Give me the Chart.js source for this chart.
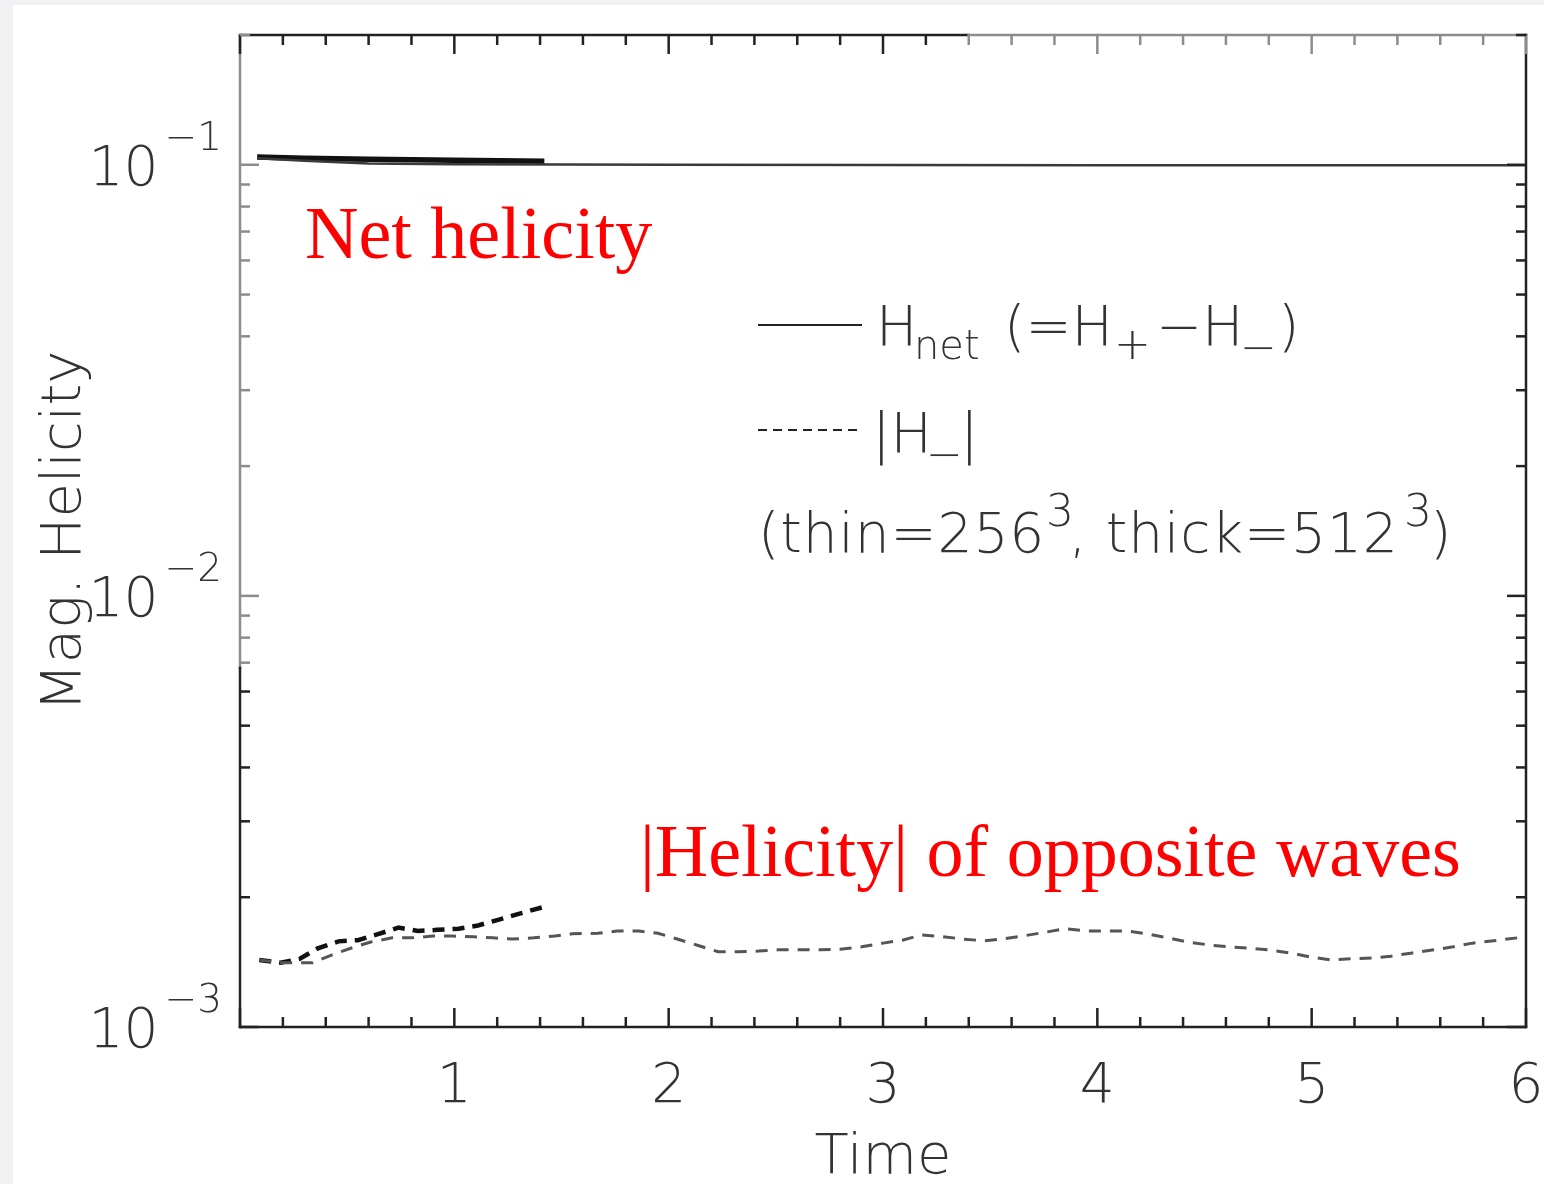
<!DOCTYPE html>
<html>
<head>
<meta charset="utf-8">
<script src="https://cdn.jsdelivr.net/npm/chart.js@4.4.1/dist/chart.umd.min.js"></script>
<style>
  html, body { margin: 0; padding: 0; background: #fff; }
  canvas { display: block; }
</style>
</head>
<body>
<canvas id="chart" width="1544" height="1184"></canvas>
<script>
// Net magnetic helicity, 256^3 (thin) and 512^3 (thick) runs
const tNet256 = [0.08, 0.3, 0.6, 1.0, 1.5, 2.0, 3.0, 4.0, 5.0, 6.0];
const hNet256 = [0.1035, 0.1022, 0.1007, 0.1003, 0.1001, 0.1000, 0.0999, 0.0998, 0.0998, 0.0997];
const tNet512 = [0.08, 0.3, 0.6, 1.0, 1.42];
const hNet512 = [0.1042, 0.1036, 0.1030, 0.1024, 0.1019];

// |H_-| of the oppositely polarised waves
const tMinus256 = [0.09, 0.19, 0.34, 0.43, 0.52, 0.61, 0.71, 0.80, 0.90, 0.99,
  1.09, 1.18, 1.27, 1.37, 1.47, 1.55, 1.67, 1.76, 1.86, 1.95,
  2.04, 2.13, 2.23, 2.32, 2.42, 2.51, 2.61, 2.71, 2.80, 2.90,
  3.00, 3.09, 3.18, 3.28, 3.37, 3.47, 3.56, 3.65, 3.76, 3.85,
  3.95, 4.05, 4.14, 4.23, 4.33, 4.42, 4.52, 4.61, 4.70, 4.80,
  4.90, 4.99, 5.09, 5.19, 5.28, 5.37, 5.47, 5.57, 5.66, 5.75,
  5.85, 5.96, 6.00];
const hMinus256 = [1.43e-3, 1.41e-3, 1.41e-3, 1.47e-3, 1.525e-3, 1.575e-3, 1.61e-3, 1.61e-3, 1.625e-3, 1.625e-3,
  1.62e-3, 1.61e-3, 1.60e-3, 1.61e-3, 1.625e-3, 1.645e-3, 1.65e-3, 1.67e-3, 1.67e-3, 1.65e-3,
  1.60e-3, 1.55e-3, 1.495e-3, 1.495e-3, 1.50e-3, 1.51e-3, 1.51e-3, 1.51e-3, 1.515e-3, 1.535e-3,
  1.565e-3, 1.59e-3, 1.635e-3, 1.62e-3, 1.60e-3, 1.585e-3, 1.60e-3, 1.625e-3, 1.66e-3, 1.69e-3,
  1.67e-3, 1.67e-3, 1.67e-3, 1.645e-3, 1.61e-3, 1.575e-3, 1.55e-3, 1.535e-3, 1.525e-3, 1.51e-3,
  1.485e-3, 1.455e-3, 1.43e-3, 1.44e-3, 1.445e-3, 1.46e-3, 1.485e-3, 1.51e-3, 1.535e-3, 1.565e-3,
  1.585e-3, 1.61e-3, 1.62e-3];
const tMinus512 = [0.09, 0.19, 0.28, 0.36, 0.46, 0.55, 0.64, 0.74, 0.83, 0.92, 1.02, 1.11, 1.20, 1.30, 1.42];
const hMinus512 = [1.43e-3, 1.41e-3, 1.44e-3, 1.52e-3, 1.58e-3, 1.59e-3, 1.64e-3, 1.70e-3, 1.67e-3, 1.68e-3,
  1.69e-3, 1.72e-3, 1.77e-3, 1.83e-3, 1.90e-3];

// Axis ranges and labels
const xMin = 0, xMax = 6;
const yMin = 1e-3, yMax = 0.2;
const yDecades = [-3, -2, -1];
const xTitle = 'Time';
const yTitle = 'Mag. Helicity';

const FONT = '"DejaVu Sans", sans-serif';
const INK = '#333';
const DARK = '#222';
const FADED = '#8c8c8c';

const pts = (xs, ys) => xs.map((v, i) => ({ x: v, y: ys[i] }));

function setFont(ctx, size) {
  ctx.font = `200 ${Math.round(size)}px ${FONT}`;
}

// Right-aligned run of text pieces, each with its own vertical shift, size factor and lead gap
function drawRich(ctx, xRight, y, parts, size) {
  const widths = parts.map(p => { setFont(ctx, size * (p.s || 1)); return ctx.measureText(p.t).width + (p.gap || 0); });
  let cx = xRight - widths.reduce((a, b) => a + b, 0);
  ctx.textAlign = 'left';
  ctx.textBaseline = 'alphabetic';
  parts.forEach((p, i) => {
    setFont(ctx, size * (p.s || 1));
    ctx.fillText(p.t, cx + (p.gap || 0), y + (p.dy || 0));
    cx += widths[i];
  });
}

// Text pieces placed at their own x positions on a common baseline
function drawPieces(ctx, y, parts, size) {
  ctx.textAlign = 'left';
  ctx.textBaseline = 'alphabetic';
  parts.forEach(p => {
    setFont(ctx, size * (p.s || 1));
    ctx.fillText(p.t, p.x, y + (p.dy || 0));
  });
}

function seg(ctx, x1, y1, x2, y2, color) {
  ctx.strokeStyle = color;
  ctx.beginPath(); ctx.moveTo(x1, y1); ctx.lineTo(x2, y2); ctx.stroke();
}

const framePlugin = {
  id: 'frame',
  beforeDraw(chart) {
    const { ctx, width, height } = chart;
    ctx.save();
    ctx.fillStyle = '#f1f1f3';
    ctx.fillRect(0, 0, width, height);
    ctx.fillStyle = '#ffffff';
    ctx.fillRect(13, 5, width - 13, height - 5);
    ctx.restore();
  },
  afterDraw(chart) {
    const { ctx, chartArea: { left, right, top, bottom }, scales: { x, y } } = chart;
    ctx.save();
    ctx.lineWidth = 2.5;
    ctx.lineCap = 'square';
    const topSplit = x.getPixelForValue(3.4);
    const leftSplit = 668;

    // box
    seg(ctx, left, top, topSplit, top, DARK);
    seg(ctx, topSplit, top, right, top, FADED);
    seg(ctx, right, top, right, bottom, DARK);
    seg(ctx, left, bottom, right, bottom, DARK);
    seg(ctx, left, top, left, leftSplit, FADED);
    seg(ctx, left, leftSplit, left, bottom, DARK);
    ctx.lineCap = 'butt';

    // inward ticks on all four sides
    for (let k = 0; k <= 30; k++) {
      const t = xMin + k * 0.2;
      const px = x.getPixelForValue(t);
      const len = k % 5 === 0 ? 19 : 10;
      seg(ctx, px, bottom, px, bottom - len, DARK);
      seg(ctx, px, top, px, top + len, px > topSplit ? FADED : DARK);
    }
    yDecades.forEach(d => {
      for (let m = 1; m <= 9; m++) {
        const v = m * Math.pow(10, d);
        if (v < yMin * 0.999 || v > yMax * 1.001) continue;
        const py = y.getPixelForValue(v);
        const len = m === 1 ? 19 : 10;
        seg(ctx, left, py, left + len, py, py < leftSplit ? FADED : DARK);
        seg(ctx, right, py, right - len, py, DARK);
      }
    });

    // decade labels 10^n
    ctx.fillStyle = INK;
    yDecades.forEach(d => {
      const py = y.getPixelForValue(Math.pow(10, d));
      drawRich(ctx, left - 18, py + 20, [
        { t: '10' },
        { t: '\u2212' + (-d), dy: -35, s: 0.7, gap: 6 }
      ], 55);
    });

    // key
    ctx.lineWidth = 2;
    seg(ctx, 758, 325, 862, 325, DARK);
    ctx.setLineDash([9, 6]);
    seg(ctx, 758, 430, 862, 430, DARK);
    ctx.setLineDash([]);
    ctx.fillStyle = INK;
    drawPieces(ctx, 345, [
      { t: 'H', x: 876 },
      { t: 'net', x: 914, dy: 14, s: 0.72 },
      { t: '(=H', x: 1004 },
      { t: '+', x: 1114, dy: 14, s: 0.8 },
      { t: '\u2212H', x: 1156 },
      { t: '\u2212', x: 1240, dy: 17, s: 0.8 },
      { t: ')', x: 1278 }
    ], 55);
    drawPieces(ctx, 452, [
      { t: '|H', x: 872 },
      { t: '\u2212', x: 926, dy: 17, s: 0.8 },
      { t: '|', x: 960 }
    ], 55);
    ctx.letterSpacing = '0.9px';
    drawPieces(ctx, 552, [
      { t: '(thin=256', x: 758 },
      { t: '3', x: 1046, dy: -26, s: 0.8 },
      { t: ', thick=512', x: 1069 },
      { t: '3', x: 1404, dy: -26, s: 0.8 },
      { t: ')', x: 1430 }
    ], 55);
    ctx.letterSpacing = '0px';

    // red annotations
    ctx.fillStyle = '#ff0000';
    ctx.font = '74px "Liberation Serif", "Times New Roman", serif';
    ctx.textAlign = 'left';
    ctx.textBaseline = 'alphabetic';
    ctx.fillText('Net helicity', 305, 258);
    ctx.fillText('|Helicity| of opposite waves', 640, 876);
    ctx.restore();
  }
};

new Chart(document.getElementById('chart'), {
  type: 'line',
  data: {
    datasets: [
      { label: 'H_net 256^3', data: pts(tNet256, hNet256), borderColor: '#3a3a3a', borderWidth: 2.5 },
      { label: 'H_net 512^3', data: pts(tNet512, hNet512), borderColor: '#111', borderWidth: 5.5 },
      { label: '|H_-| 256^3', data: pts(tMinus256, hMinus256), borderColor: '#555', borderWidth: 3, borderDash: [12, 9] },
      { label: '|H_-| 512^3', data: pts(tMinus512, hMinus512), borderColor: '#111', borderWidth: 4.5, borderDash: [12, 8] }
    ]
  },
  options: {
    responsive: false,
    animation: false,
    devicePixelRatio: 1,
    elements: { point: { radius: 0 }, line: { tension: 0, borderCapStyle: 'butt' } },
    layout: { padding: { top: 35, right: 18, left: 0, bottom: 0 } },
    plugins: { legend: { display: false }, tooltip: { enabled: false } },
    scales: {
      x: {
        type: 'linear', min: xMin, max: xMax,
        grid: { display: false, drawTicks: false },
        border: { display: false },
        ticks: {
          stepSize: 1, autoSkip: false, maxRotation: 0, padding: 28,
          color: INK, font: { family: FONT, size: 55, weight: 200 },
          callback: v => (v === 0 ? '' : String(v))
        },
        title: { display: true, text: xTitle, color: INK, font: { family: FONT, size: 56, weight: 200, lineHeight: 0.9 }, padding: { top: 0, bottom: 0 } },
        afterFit: s => { s.height = 157; s.paddingLeft = 0; s.paddingRight = 0; }
      },
      y: {
        type: 'logarithmic', min: yMin, max: yMax,
        grid: { display: false, drawTicks: false },
        border: { display: false },
        ticks: { display: false },
        title: { display: true, text: yTitle, color: INK, font: { family: FONT, size: 56, weight: 200 }, padding: { top: 32, bottom: 0 } },
        afterFit: s => { s.width = 240; s.paddingTop = 0; s.paddingBottom = 0; }
      }
    }
  },
  plugins: [framePlugin]
});
</script>
</body>
</html>
